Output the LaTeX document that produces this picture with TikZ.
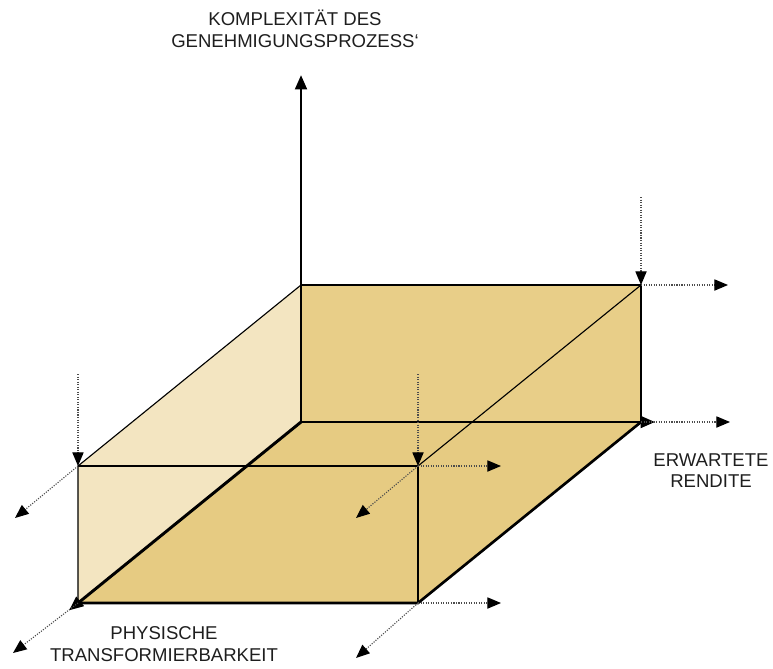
\documentclass[tikz,border=0pt]{standalone}
\usepackage{fontspec}
\setmainfont{Liberation Sans}
\usetikzlibrary{arrows.meta}
\definecolor{wallback}{HTML}{E8CE88}
\definecolor{wallside}{HTML}{F3E5C1}
\definecolor{floorgold}{HTML}{E6CB82}
\definecolor{labelgray}{HTML}{1E1E1E}
\begin{document}
\begin{tikzpicture}[
        axis/.style={line width=2.1pt,-{Triangle[length=3.6mm,width=2.9mm]}},
        edge/.style={line width=0.8pt},
        rim/.style={line width=1.9pt},
        guide/.style={densely dotted,line width=0.8pt,black!70,-{Triangle[length=3.4mm,width=2.8mm,black]}},
        lab/.style={font=\fontsize{13.2}{15.2}\selectfont,text=labelgray,align=center}]
            \useasboundingbox (-7.525,-6.15) rectangle (11.8,10.55);
            % back face
            \coordinate (o) at (0,0);
            \coordinate (b) at (8.5,0);
            \coordinate (c) at (8.5,3.425);
            \coordinate (d) at (0,3.425);
            % front face
            \coordinate (of) at (-5.575,-4.525);
            \coordinate (bf) at (2.925,-4.525);
            \coordinate (cf) at (2.925,-1.1);
            \coordinate (df) at (-5.575,-1.1);
            % axis tips
            \coordinate (ytip) at (0,8.675);
            \coordinate (xtip) at (8.85,0);
            \coordinate (ztip) at (-5.8,-4.71);
            % free ends of the dotted guides
            \coordinate (xend) at (10.725,0);
            \coordinate (cright) at (10.675,3.425);
            \coordinate (cup) at (8.5,5.625);
            \coordinate (cfup) at (2.925,1.2);
            \coordinate (dfup) at (-5.575,1.2);
            \coordinate (cfright) at (5.0,-1.1);
            \coordinate (bfright) at (5.0,-4.525);
            \coordinate (dfdown) at (-7.15,-2.4);
            \coordinate (cfdown) at (1.375,-2.4);
            \coordinate (ofdown) at (-7.2,-5.775);
            \coordinate (bfdown) at (1.375,-5.9);
            % faces
            \fill[floorgold] (o)--(b)--(bf)--(of)--cycle;
            \fill[wallback] (o)--(b)--(c)--(d)--cycle;
            \fill[wallside] (o)--(d)--(df)--(of)--cycle;
            % edges
            \draw[edge] (d)--(c)--(b);
            \draw[edge] (d)--(df)--(of);
            \draw[edge] (df)--(cf)--(bf);
            \draw[edge] (c)--(cf);
            \draw[rim] (of)--(bf)--(b);
            % axes
            \draw[axis] (o)--(ytip);
            \draw[axis] (o)--(xtip);
            \draw[axis] (o)--(ztip);
            % dotted guides
            \draw[guide] (b)--(xend);
            \draw[guide] (c)--(cright);
            \draw[guide] (cup)--(c);
            \draw[guide] (cfup)--(cf);
            \draw[guide] (dfup)--(df);
            \draw[guide] (cf)--(cfright);
            \draw[guide] (bf)--(bfright);
            \draw[guide] (df)--(dfdown);
            \draw[guide] (cf)--(cfdown);
            \draw[guide] (of)--(ofdown);
            \draw[guide] (bf)--(bfdown);
            % labels
            \node[lab] (ylab) at (-0.15,9.825) {KOMPLEXITÄT DES\\GENEHMIGUNGSPROZESS‘};
            \node[lab] (xlab) at (10.25,-1.21) {ERWARTETE\\RENDITE};
            \node[lab] (zlab) at (-3.425,-5.55) {PHYSISCHE\\TRANSFORMIERBARKEIT};
        \end{tikzpicture}
\end{document}
